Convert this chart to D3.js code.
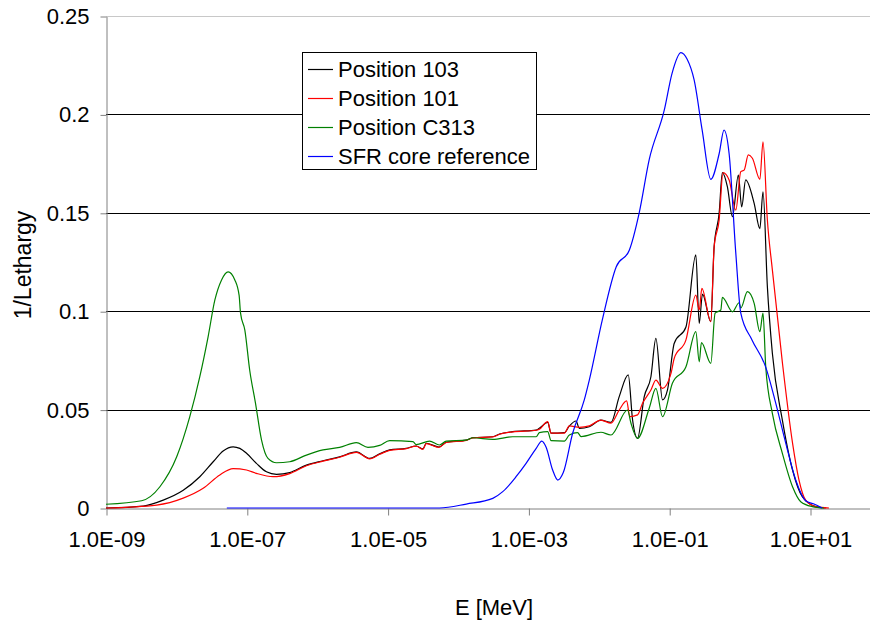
<!DOCTYPE html>
<html>
<head>
<meta charset="utf-8">
<script src="https://cdn.jsdelivr.net/npm/d3@7"></script>
<style>
  html, body { margin: 0; padding: 0; background: #fff; }
  svg { display: block; font-family: "Liberation Sans", Arial, sans-serif; }
</style>
</head>
<body>
<svg id="chart" width="870" height="623"></svg>
<script>
// ---------------- DATA ----------------
const seriesNames = ["Position 103", "Position 101", "Position C313", "SFR core reference"];
const seriesColors = ["#000000", "#ff0000", "#008000", "#0000ff"];

const yTickValues = [0, 0.05, 0.1, 0.15, 0.2, 0.25];
const yTickLabels = ["0", "0.05", "0.1", "0.15", "0.2", "0.25"];
const xTickValues = [1e-9, 1e-7, 1e-5, 1e-3, 1e-1, 1e1];
const xTickLabels = ["1.0E-09", "1.0E-07", "1.0E-05", "1.0E-03", "1.0E-01", "1.0E+01"];

// Position 103 (black)
const energy103 = [1e-9, 3.38e-9, 6.50e-9, 1.25e-8, 2.15e-8, 3.33e-8, 4.61e-8, 6.40e-8, 7.96e-8, 9.91e-8,
  1.37e-7, 1.90e-7, 2.64e-7, 4.07e-7, 7.03e-7, 1.21e-6, 2.08e-6, 3.60e-6, 5.56e-6, 7.71e-6,
  1.07e-5, 1.84e-5, 2.55e-5, 3.17e-5, 3.54e-5, 5.35e-5, 6.81e-5, 1.31e-4, 1.62e-4, 3.12e-4,
  3.88e-4, 5.98e-4, 1.29e-3, 1.43e-3, 1.88e-3, 2.10e-3, 3.24e-3, 3.82e-3, 4.75e-3, 5.28e-3,
  7.33e-3, 1.07e-2, 1.49e-2, 1.95e-2, 2.62e-2, 3.02e-2, 3.55e-2, 4.42e-2, 5.50e-2, 6.47e-2,
  8.04e-2, 9.46e-2, 0.118, 0.173, 0.239, 0.267, 0.297, 0.390, 0.435, 0.512,
  0.569, 0.670, 0.791, 0.961, 1.07, 1.22, 1.61, 1.94, 2.15, 2.48,
  2.92, 4.05, 5.65, 7.78, 12.1, 16.7];
const value103 = [0.0000, 0.0010, 0.0040, 0.0090, 0.0159, 0.0235, 0.0290, 0.0311, 0.0303, 0.0278,
  0.0227, 0.0184, 0.0171, 0.0180, 0.0218, 0.0240, 0.0260, 0.0285, 0.0252, 0.0275,
  0.0295, 0.0303, 0.0315, 0.0300, 0.0329, 0.0310, 0.0334, 0.0345, 0.0357, 0.0362,
  0.0376, 0.0388, 0.0396, 0.0405, 0.0435, 0.0380, 0.0383, 0.0417, 0.0442, 0.0405,
  0.0413, 0.0447, 0.0435, 0.0566, 0.0676, 0.0447, 0.0354, 0.0566, 0.0667, 0.0862,
  0.0549, 0.0600, 0.0837, 0.0920, 0.1286, 0.0938, 0.1087, 0.0947, 0.1328, 0.1497,
  0.1704, 0.1633, 0.1480, 0.1692, 0.1530, 0.1667, 0.1548, 0.1420, 0.1607, 0.1125,
  0.0786, 0.0447, 0.0193, 0.0057, 0.0007, 0.0000];

// Position 101 (red)
const energy101 = [1e-9, 5.24e-9, 1.25e-8, 2.40e-8, 4.14e-8, 6.40e-8, 9.91e-8, 1.37e-7, 2.36e-7, 4.07e-7,
  7.03e-7, 1.21e-6, 2.08e-6, 3.60e-6, 5.56e-6, 7.71e-6, 1.07e-5, 1.84e-5, 2.55e-5, 3.17e-5,
  3.54e-5, 5.35e-5, 6.81e-5, 1.31e-4, 1.62e-4, 3.12e-4, 3.88e-4, 5.98e-4, 1.29e-3, 1.43e-3,
  1.88e-3, 2.10e-3, 3.24e-3, 3.82e-3, 5.28e-3, 7.33e-3, 1.07e-2, 1.49e-2, 1.95e-2, 2.48e-2,
  2.77e-2, 3.55e-2, 4.18e-2, 5.50e-2, 6.47e-2, 8.04e-2, 0.106, 0.118, 0.173, 0.239,
  0.267, 0.291, 0.390, 0.435, 0.512, 0.582, 0.710, 0.883, 1.04, 1.16,
  1.33, 1.52, 1.94, 2.15, 2.48, 2.92, 4.05, 5.65, 6.98, 8.69, 12.1, 18.6];
const value101 = [0.0000, 0.0015, 0.0050, 0.0100, 0.0168, 0.0200, 0.0193, 0.0176, 0.0159, 0.0175,
  0.0215, 0.0238, 0.0258, 0.0283, 0.0250, 0.0273, 0.0293, 0.0302, 0.0314, 0.0298,
  0.0327, 0.0308, 0.0333, 0.0344, 0.0356, 0.0361, 0.0375, 0.0387, 0.0395, 0.0400,
  0.0439, 0.0380, 0.0380, 0.0417, 0.0410, 0.0417, 0.0447, 0.0431, 0.0498, 0.0544,
  0.0464, 0.0473, 0.0532, 0.0600, 0.0650, 0.0608, 0.0684, 0.0761, 0.0854, 0.1082,
  0.1006, 0.1116, 0.0947, 0.1328, 0.1463, 0.1704, 0.1667, 0.1514, 0.1709, 0.1717,
  0.1794, 0.1777, 0.1670, 0.1861, 0.1463, 0.1210, 0.0740, 0.0330, 0.0142, 0.0040, 0.0007, 0.0000];

// Position C313 (green)
const energyC313 = [1e-9, 3.21e-9, 5.83e-9, 1.01e-8, 1.55e-8, 2.15e-8, 2.82e-8, 3.52e-8, 4.38e-8, 5.43e-8,
  6.76e-8, 7.78e-8, 8.15e-8, 9.38e-8, 1.10e-7, 1.33e-7, 1.62e-7, 2.00e-7, 2.64e-7, 4.07e-7,
  7.03e-7, 1.21e-6, 2.08e-6, 3.60e-6, 5.26e-6, 7.71e-6, 1.07e-5, 2.29e-5, 2.55e-5, 3.94e-5,
  5.47e-5, 6.81e-5, 1.31e-4, 1.62e-4, 3.12e-4, 5.98e-4, 1.29e-3, 1.43e-3, 1.88e-3, 2.10e-3,
  3.24e-3, 3.82e-3, 5.00e-3, 5.60e-3, 1.07e-2, 1.49e-2, 2.56e-2, 2.86e-2, 3.55e-2, 5.20e-2,
  6.47e-2, 8.04e-2, 0.111, 0.173, 0.239, 0.267, 0.287, 0.390, 0.449, 0.541,
  0.569, 0.791, 0.984, 1.04, 1.29, 1.61, 1.94, 2.15, 2.35, 2.92,
  4.05, 5.65, 7.38, 10.8, 15.8];
const valueC313 = [0.0019, 0.0037, 0.0108, 0.0260, 0.0464, 0.0667, 0.0870, 0.1057, 0.1159, 0.1200,
  0.1159, 0.1080, 0.0990, 0.0904, 0.0700, 0.0532, 0.0345, 0.0252, 0.0230, 0.0235,
  0.0269, 0.0295, 0.0308, 0.0332, 0.0308, 0.0318, 0.0342, 0.0337, 0.0322, 0.0340,
  0.0320, 0.0340, 0.0345, 0.0357, 0.0349, 0.0362, 0.0362, 0.0383, 0.0388, 0.0342,
  0.0340, 0.0371, 0.0383, 0.0363, 0.0385, 0.0371, 0.0498, 0.0432, 0.0354, 0.0507,
  0.0608, 0.0464, 0.0634, 0.0718, 0.0896, 0.0743, 0.0840, 0.0735, 0.0990, 0.1006,
  0.1070, 0.0997, 0.1043, 0.1016, 0.1099, 0.1040, 0.0896, 0.0990, 0.0718, 0.0481,
  0.0278, 0.0108, 0.0032, 0.0007, 0.0000];

// SFR core reference (blue)
const energySFR = [5.20e-8, 5.47e-5, 1.31e-4, 3.12e-4, 4.32e-4, 6.68e-4, 9.27e-4, 1.29e-3, 1.55e-3, 1.78e-3,
  2.21e-3, 2.61e-3, 3.13e-3, 4.25e-3, 6.22e-3, 7.33e-3, 1.12e-2, 1.77e-2, 2.71e-2, 3.75e-2,
  5.20e-2, 8.49e-2, 0.110, 0.147, 0.180, 0.226, 0.294, 0.390, 0.512, 0.601,
  0.710, 0.883, 1.04, 1.50, 2.35, 3.26, 4.52, 6.27, 8.69, 11.4, 14.8];
const valueSFR = [0.0000, 0.0000, 0.0020, 0.0049, 0.0083, 0.0159, 0.0227, 0.0303, 0.0340, 0.0310,
  0.0193, 0.0142, 0.0180, 0.0380, 0.0549, 0.0650, 0.0955, 0.1226, 0.1310, 0.1500,
  0.1770, 0.2020, 0.2210, 0.2314, 0.2280, 0.2175, 0.1920, 0.1670, 0.1800, 0.1920,
  0.1800, 0.1295, 0.0990, 0.0854, 0.0716, 0.0533, 0.0330, 0.0142, 0.0037, 0.0020, 0.0000];

const seriesEnergies = [energy103, energy101, energyC313, energySFR];
const seriesValues = [value103, value101, valueC313, valueSFR];

// ---------------- CHART ----------------
const svg = d3.select("#chart");
const W = 870, H = 623;

const x = d3.scaleLog().domain([1e-9, 1e2]).range([106, 880.4]);
const y = d3.scaleLinear().domain([0, 0.25]).range([508, 16]);

// gridlines
svg.append("g").selectAll("line")
  .data(yTickValues.filter(v => v > 0))
  .join("line")
  .attr("x1", 106).attr("x2", W)
  .attr("y1", d => Math.round(y(d)) + 0.5).attr("y2", d => Math.round(y(d)) + 0.5)
  .attr("stroke", d => d === 0.25 ? "#c8c8c8" : "#000")
  .attr("stroke-width", 1);

// y axis
const yAxis = d3.axisLeft(y)
  .tickValues(yTickValues)
  .tickFormat((d, i) => yTickLabels[i])
  .tickSize(6).tickSizeOuter(0).tickPadding(11);
const gy = svg.append("g").attr("transform", "translate(106.5,0.5)").call(yAxis);
gy.select(".domain").attr("stroke", "#808080");
gy.selectAll(".tick line").attr("stroke", "#808080");
gy.selectAll(".tick text").attr("font-size", 22).attr("fill", "#000")
  .attr("font-family", "Liberation Sans, Arial, sans-serif");

// x axis
const xAxis = d3.axisBottom(x)
  .tickValues(xTickValues)
  .tickFormat((d, i) => xTickLabels[i])
  .tickSize(7).tickSizeOuter(0).tickPadding(16);
const gx = svg.append("g").attr("transform", "translate(0.5,508.5)").call(xAxis);
gx.select(".domain").attr("stroke", "#808080");
gx.selectAll(".tick line").attr("stroke", "#808080");
gx.selectAll(".tick text").attr("font-size", 22).attr("fill", "#000")
  .attr("font-family", "Liberation Sans, Arial, sans-serif");

// series lines
const line = d3.line()
  .x(d => x(d[0]))
  .y(d => y(d[1]))
  .curve(d3.curveMonotoneX);

seriesNames.forEach((name, i) => {
  const pts = seriesEnergies[i].map((e, k) => [e, seriesValues[i][k]]);
  svg.append("path")
    .datum(pts)
    .attr("fill", "none")
    .attr("stroke", seriesColors[i])
    .attr("stroke-width", 1.2)
    .attr("stroke-linejoin", "round")
    .attr("d", line);
});

// legend
const lg = svg.append("g");
lg.append("rect")
  .attr("x", 302.5).attr("y", 52.5).attr("width", 234).attr("height", 117)
  .attr("fill", "#fff").attr("stroke", "#000").attr("stroke-width", 1);
const rowY = [69, 98, 127, 156];
seriesNames.forEach((name, i) => {
  lg.append("line")
    .attr("x1", 308).attr("x2", 333)
    .attr("y1", rowY[i] + 0.5).attr("y2", rowY[i] + 0.5)
    .attr("stroke", seriesColors[i]).attr("stroke-width", 1.2);
  lg.append("text")
    .attr("x", 338).attr("y", rowY[i]).attr("dy", "0.36em")
    .attr("font-size", 22).attr("fill", "#000")
    .text(name);
});

// axis titles
svg.append("text")
  .attr("transform", "translate(31,265) rotate(-90)")
  .attr("text-anchor", "middle")
  .attr("font-size", 23).text("1/Lethargy");
svg.append("text")
  .attr("x", 494).attr("y", 607).attr("dy", "0.35em")
  .attr("text-anchor", "middle")
  .attr("font-size", 22).text("E [MeV]");
</script>
</body>
</html>
